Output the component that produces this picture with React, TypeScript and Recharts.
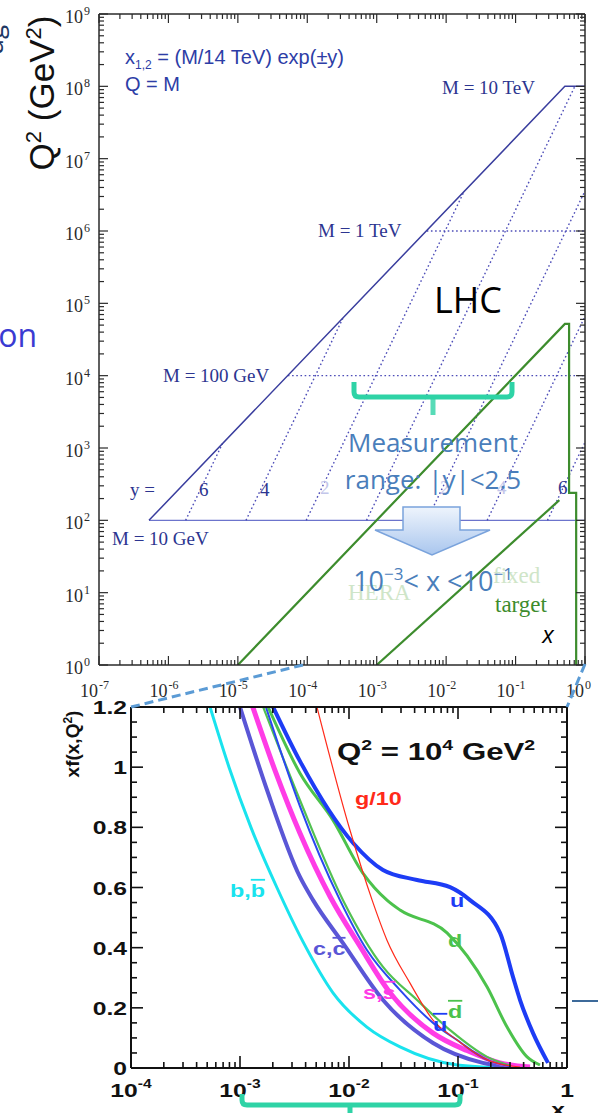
import { LineChart, Line, XAxis, YAxis } from 'recharts'

const SERIF = '"Liberation Serif", "DejaVu Serif", serif'
const SANS = '"Liberation Sans", Arial, sans-serif'
const OFFICE = '"Open Sans", "Noto Sans", sans-serif'

// ---------- upper panel: LHC kinematic plane (x, Q^2) ----------
const edgeX = [1, 0.513, 5.25e-7]
const edgeQ2 = [1e8, 1e8, 1e2]
const m10X = [5.25e-7, 1]
const m10Q2 = [1e2, 1e2]
const m100X = [5.25e-5, 1]
const m100Q2 = [1e4, 1e4]
const m1000X = [5.25e-3, 1]
const m1000Q2 = [1e6, 1e6]
const rapidity = [6, 4, 2, 0, -2, -4, -6]
const rapLowX = [1.77e-6, 1.31e-5, 9.66e-5, 7.14e-4, 5.28e-3, 3.9e-2, 0.288]
const rapLowQ2 = [1e2, 1e2, 1e2, 1e2, 1e2, 1e2, 1e2]
const rapHighX = [6.0e-6, 3.25e-4, 1.78e-2, 0.714, 1, 1, 1]
const rapHighQ2 = [1.15e3, 6.2e4, 3.4e6, 1e8, 3.58e6, 6.6e4, 1.2e3]
const heraX = [1e-5, 0.513, 0.59, 0.59, 0.746, 0.746]
const heraQ2 = [1, 5.2e4, 5.2e4, 240, 240, 1]
const fixedX = [1e-3, 0.427]
const fixedQ2 = [1, 190]

// ---------- lower panel: parton distributions at Q^2 = 10^4 GeV^2 ----------
const uX = [2.01e-3, 3.55e-3, 1.09e-2, 2.05e-2, 4.21e-2, 8.45e-2, 0.129, 0.243, 0.32, 0.371, 0.488, 0.67]
const uV = [1.2, 1.02, 0.748, 0.658, 0.625, 0.601, 0.558, 0.449, 0.302, 0.226, 0.116, 0.017]
const dX = [1.81e-3, 3.55e-3, 7.13e-3, 1.34e-2, 2.23e-2, 2.94e-2, 7.93e-2, 0.185, 0.282, 0.43, 0.565]
const dV = [1.2, 0.98, 0.824, 0.648, 0.558, 0.525, 0.449, 0.269, 0.136, 0.037, 0.01]
const gX = [5.08e-3, 1.02e-2, 1.63e-2, 2.23e-2, 3.63e-2, 5.9e-2, 9.8e-2, 0.185, 0.371]
const gV = [1.2, 0.791, 0.558, 0.425, 0.282, 0.159, 0.093, 0.027, 0.003]
const dbarX = [1.63e-3, 3.55e-3, 8.81e-3, 2.05e-2, 4.21e-2, 8.45e-2, 0.185, 0.3]
const dbarV = [1.2, 0.89, 0.558, 0.336, 0.226, 0.126, 0.037, 0.008]
const ubarX = [1.73e-3, 3.55e-3, 8.26e-3, 1.46e-2, 2.94e-2, 5.9e-2, 9.8e-2, 0.185, 0.3]
const ubarV = [1.2, 0.87, 0.558, 0.392, 0.259, 0.15, 0.093, 0.027, 0.006]
const sX = [1.31e-3, 2.14e-3, 3.55e-3, 6.7e-3, 1.26e-2, 2.38e-2, 5.9e-2, 0.121, 0.243, 0.458]
const sV = [1.2, 0.98, 0.78, 0.57, 0.405, 0.25, 0.116, 0.058, 0.017, 0.003]
const cX = [1.0e-3, 1.77e-3, 3.55e-3, 4.68e-3, 8.81e-3, 2.05e-2, 5.9e-2, 0.169, 0.371]
const cV = [1.2, 0.924, 0.635, 0.558, 0.415, 0.226, 0.083, 0.017, 0.002]
const bX = [5.31e-4, 7.93e-4, 1.26e-3, 2.18e-3, 3.78e-3, 7.13e-3, 1.46e-2, 2.94e-2, 9.8e-2, 0.243]
const bV = [1.2, 1.0, 0.8, 0.6, 0.42, 0.25, 0.136, 0.07, 0.01, 0.001]

const zip = (xs: number[], ys: number[]) => xs.map((x, i) => ({ x, y: ys[i] }))

const logTicks = (lo: number, hi: number) => {
  const t: number[] = []
  for (let e = lo; e < hi; e++) for (let m = 1; m < 10; m++) t.push(m * Math.pow(10, e))
  t.push(Math.pow(10, hi))
  return t
}
const isDecade = (v: number) => Math.abs(Math.log10(v) - Math.round(Math.log10(v))) < 1e-6

const xTicksUp = logTicks(-7, 0)
const yTicksUp = logTicks(0, 9)
const xTicksLow = logTicks(-4, 0)
const yTicksLow = Array.from({ length: 25 }, (_, i) => Math.round(i * 5) / 100)

type Side = 'bottom' | 'top' | 'left' | 'right'

const INK = '#2a2a2a'

const upperTick = (side: Side) => (p: any) => {
  const v = p.payload.value
  const major = isDecade(v)
  const len = major ? 9 : 5
  const { x, y } = p
  const e = Math.round(Math.log10(v))
  const ln = { stroke: INK, strokeWidth: 1.2 }
  if (side === 'bottom')
    return (
      <g>
        <line x1={x} y1={y} x2={x} y2={y - len} {...ln} />
        {major && (
          <g fontFamily={SERIF} fill={INK}>
            <text x={x - 1} y={y + 32} textAnchor="end" fontSize={18}>10</text>
            <text x={x} y={y + 24} fontSize={12}>{e}</text>
          </g>
        )}
      </g>
    )
  if (side === 'top') return <line x1={x} y1={y} x2={x} y2={y + len} {...ln} />
  if (side === 'right') return <line x1={x} y1={y} x2={x - len} y2={y} {...ln} />
  return (
    <g>
      <line x1={x} y1={y} x2={x + len} y2={y} {...ln} />
      {major && (
        <g fontFamily={SERIF} fill={INK}>
          <text x={x - 16} y={y + 9} textAnchor="end" fontSize={18}>10</text>
          <text x={x - 15} y={y + 1} fontSize={12}>{e}</text>
        </g>
      )}
    </g>
  )
}

const lowerTick = (side: Side) => (p: any) => {
  const v = p.payload.value
  const { x, y } = p
  const major = side === 'left' || side === 'right' ? Math.abs(v / 0.2 - Math.round(v / 0.2)) < 1e-6 : isDecade(v)
  const len = major ? 12 : 6
  const ln = { stroke: '#111', strokeWidth: 1.6 }
  if (side === 'bottom') {
    const e = Math.round(Math.log10(v))
    return (
      <g>
        <line x1={x} y1={y} x2={x} y2={y - len} {...ln} />
        {major && (
          <g transform={`translate(${x},${y + 29}) scale(1.3,1)`}>
            <text x={0} y={0} textAnchor="middle" fontFamily={SANS} fontWeight="bold" fontSize={19} fill="#111">
              {e === 0 ? '1' : '10'}
              {e !== 0 && <tspan dy={-9} fontSize={12}>{String(e)}</tspan>}
            </text>
          </g>
        )}
      </g>
    )
  }
  if (side === 'top') return <line x1={x} y1={y} x2={x} y2={y + len} {...ln} />
  if (side === 'right') return <line x1={x} y1={y} x2={x - len} y2={y} {...ln} />
  const lab = v === 0 ? '0' : Math.abs(v - 1) < 1e-6 ? '1' : v.toFixed(1)
  return (
    <g>
      <line x1={x} y1={y} x2={x + len} y2={y} {...ln} />
      {major && (
        <g transform={`translate(${x - 4},${y + 7}) scale(1.3,1)`}>
          <text x={0} y={0} textAnchor="end" fontFamily={SANS} fontWeight="bold" fontSize={19} fill="#111">{lab}</text>
        </g>
      )}
    </g>
  )
}

const NAVY = '#3a3e9e'
const DOT = '#4d4db8'
const GREEN = '#3d8c2d'

const upAxisLine = { stroke: INK, strokeWidth: 1.5 }
const lowAxisLine = { stroke: '#111', strokeWidth: 2 }

function UpperChart() {
  const lineProps = { xAxisId: 'b', yAxisId: 'l', dataKey: 'y', dot: false, activeDot: false, isAnimationActive: false, type: 'linear' as const }
  return (
    <LineChart width={598} height={700} margin={{ top: 4, right: 3, bottom: 5, left: 0 }}>
      <XAxis xAxisId="b" type="number" dataKey="x" scale="log" domain={[1e-7, 1]} ticks={xTicksUp} interval={0}
        tickSize={0} tickMargin={0} height={30} allowDataOverflow axisLine={upAxisLine} tick={upperTick('bottom')} />
      <XAxis xAxisId="t" orientation="top" type="number" dataKey="x" scale="log" domain={[1e-7, 1]} ticks={xTicksUp} interval={0}
        tickSize={0} tickMargin={0} height={10} allowDataOverflow axisLine={upAxisLine} tick={upperTick('top')} />
      <YAxis yAxisId="l" type="number" dataKey="y" scale="log" domain={[1, 1e9]} ticks={yTicksUp} interval={0}
        tickSize={0} tickMargin={0} width={99} allowDataOverflow axisLine={upAxisLine} tick={upperTick('left')} />
      <YAxis yAxisId="r" orientation="right" type="number" dataKey="y" scale="log" domain={[1, 1e9]} ticks={yTicksUp} interval={0}
        tickSize={0} tickMargin={0} width={10} allowDataOverflow axisLine={upAxisLine} tick={upperTick('right')} />

      <Line {...lineProps} data={zip(m10X, m10Q2)} stroke="#6c74cc" strokeWidth={1.4} />
      <Line {...lineProps} data={zip(m100X, m100Q2)} stroke={DOT} strokeWidth={1.4} strokeDasharray="1.6 2.6" />
      <Line {...lineProps} data={zip(m1000X, m1000Q2)} stroke={DOT} strokeWidth={1.4} strokeDasharray="1.6 2.6" />
      {rapidity.map((r, i) => (
        <Line key={r} {...lineProps}
          data={[{ x: rapLowX[i], y: rapLowQ2[i] }, { x: rapHighX[i], y: rapHighQ2[i] }]}
          stroke={DOT} strokeWidth={1.4} strokeDasharray="1.6 2.6" />
      ))}
      <Line {...lineProps} data={zip(edgeX, edgeQ2)} stroke={NAVY} strokeWidth={1.5} />
      <Line {...lineProps} data={zip(heraX, heraQ2)} stroke={GREEN} strokeWidth={2.2} />
      <Line {...lineProps} data={zip(fixedX, fixedQ2)} stroke={GREEN} strokeWidth={2.2} />
    </LineChart>
  )
}

function LowerChart() {
  const lp = { xAxisId: 'b', yAxisId: 'l', dataKey: 'y', dot: false, activeDot: false, isAnimationActive: false, type: 'monotone' as const }
  return (
    <LineChart width={598} height={420} margin={{ top: 7, right: 21, bottom: 5, left: 0 }}>
      <XAxis xAxisId="b" type="number" dataKey="x" scale="log" domain={[1e-4, 1]} ticks={xTicksLow} interval={0}
        tickSize={0} tickMargin={0} height={37} allowDataOverflow axisLine={lowAxisLine} tick={lowerTick('bottom')} />
      <XAxis xAxisId="t" orientation="top" type="number" dataKey="x" scale="log" domain={[1e-4, 1]} ticks={xTicksLow} interval={0}
        tickSize={0} tickMargin={0} height={10} allowDataOverflow axisLine={lowAxisLine} tick={lowerTick('top')} />
      <YAxis yAxisId="l" type="number" dataKey="y" domain={[0, 1.2]} ticks={yTicksLow} interval={0}
        tickSize={0} tickMargin={0} width={131} allowDataOverflow axisLine={lowAxisLine} tick={lowerTick('left')} />
      <YAxis yAxisId="r" orientation="right" type="number" dataKey="y" domain={[0, 1.2]} ticks={yTicksLow} interval={0}
        tickSize={0} tickMargin={0} width={10} allowDataOverflow axisLine={lowAxisLine} tick={lowerTick('right')} />

      <Line {...lp} data={zip(bX, bV)} stroke="#19e3ee" strokeWidth={3} />
      <Line {...lp} data={zip(cX, cV)} stroke="#5a56d6" strokeWidth={4} />
      <Line {...lp} data={zip(sX, sV)} stroke="#ff3ce6" strokeWidth={5} />
      <Line {...lp} data={zip(dbarX, dbarV)} stroke="#52c152" strokeWidth={2.2} />
      <Line {...lp} data={zip(ubarX, ubarV)} stroke="#2a48f0" strokeWidth={2} />
      <Line {...lp} data={zip(dX, dV)} stroke="#4cc24c" strokeWidth={3} />
      <Line {...lp} data={zip(uX, uV)} stroke="#1d3cf5" strokeWidth={4} />
      <Line {...lp} data={zip(gX, gV)} stroke="#ff2a1a" strokeWidth={1.2} />
    </LineChart>
  )
}

function Overlay() {
  const lbl = { fontFamily: SERIF, fontSize: 19, fill: '#2c3590' }
  const pdfLbl = (x: number, y: number, color: string, content: any) => (
    <g transform={`translate(${x},${y}) scale(1.3,1)`}>
      <text x={0} y={0} fontFamily={SANS} fontWeight="bold" fontSize={18} fill={color}>{content}</text>
    </g>
  )
  const teal = '#2ed3a6'
  return (
    <svg width={598} height={1113} style={{ position: 'absolute', left: 0, top: 0, pointerEvents: 'none' }}>
      <defs>
        <linearGradient id="arrowFill" x1="0" y1="0" x2="0" y2="1">
          <stop offset="0%" stopColor="#eef4fc" />
          <stop offset="100%" stopColor="#a9c6ee" />
        </linearGradient>
      </defs>

      {/* cut-off slide text on the left */}
      <text x={3} y={40} transform="rotate(-90 3 40)" textAnchor="middle" fontFamily={OFFICE} fontSize={26} fill="#1f3864">ug</text>
      <text x={37} y={347} textAnchor="end" fontFamily={OFFICE} fontSize={32} fill="#3a3ad2">tion</text>

      {/* upper axis title */}
      <text x={54} y={93} transform="rotate(-90 54 93)" textAnchor="middle" fontFamily={SANS} fontSize={35} fill="#111">
        Q<tspan dy={-13} fontSize={22}>2</tspan><tspan dy={13}> (GeV</tspan><tspan dy={-13} fontSize={22}>2</tspan><tspan dy={13}>)</tspan>
      </text>

      <text x={125} y={64} fontFamily={SANS} fontSize={20} fill="#2d3da6">
        x<tspan dy={5} fontSize={12}>1,2</tspan><tspan dy={-5}> = (M/14 TeV) exp(±y)</tspan>
      </text>
      <text x={125} y={91} fontFamily={SANS} fontSize={20} fill="#2d3da6">Q = M</text>

      <text x={442} y={94} {...lbl}>M = 10 TeV</text>
      <text x={318} y={237} {...lbl}>M = 1 TeV</text>
      <text x={163} y={382} {...lbl}>M = 100 GeV</text>
      <text x={112} y={545} {...lbl}>M = 10 GeV</text>
      <text x={130} y={496} {...lbl}>y =</text>
      <text x={199} y={496} {...lbl}>6</text>
      <text x={260} y={496} {...lbl}>4</text>
      <text x={320} y={494} {...lbl} fill="#c3c6ea">2</text>
      <text x={440} y={494} {...lbl} fill="#c3c6ea">2</text>
      <text x={497} y={494} {...lbl} fill="#c3c6ea">4</text>
      <text x={558} y={494} {...lbl}>6</text>

      <text x={348} y={600} fontFamily={SERIF} fontSize={23} fill="#cfe5c8">HERA</text>
      <text x={493} y={583} fontFamily={SERIF} fontSize={23} fill="#cfe5c8">fixed</text>
      <text x={495} y={612} fontFamily={SERIF} fontSize={23} fill={GREEN}>target</text>

      <text x={468} y={313} textAnchor="middle" fontFamily={OFFICE} fontSize={36} fill="#000">LHC</text>

      {/* measurement bracket */}
      <path d="M354,382 L354,392 Q354,397 359,397 L507,397 Q512,397 512,392 L512,382" fill="none" stroke={teal} strokeWidth={5} />
      <line x1={433} y1={397} x2={433} y2={415} stroke={teal} strokeWidth={5} opacity={0.8} />

      <text x={433} y={452} textAnchor="middle" fontFamily={OFFICE} fontSize={26} fill="#4a7ebb">Measurement</text>
      <text x={433} y={489} textAnchor="middle" fontFamily={OFFICE} fontSize={26} fill="#4a7ebb">range: |y|&lt;2.5</text>

      <polygon points="403,507 460,507 460,530 490,530 432,555 375,530 403,530" fill="url(#arrowFill)" stroke="#7aa3dc" strokeWidth={1.5} />

      <text x={433} y={591} textAnchor="middle" fontFamily={OFFICE} fontSize={27} fill="#4a7ebb">
        10<tspan dy={-11} fontSize={17}>−3</tspan><tspan dy={11}>&lt; x &lt;10</tspan><tspan dy={-11} fontSize={17}>−1</tspan>
      </text>

      <text x={548} y={643} textAnchor="middle" fontFamily={OFFICE} fontStyle="italic" fontSize={24} fill="#000">x</text>

      {/* zoom connectors */}
      <line x1={131} y1={707} x2={307} y2={664} stroke="#5b9bd5" strokeWidth={3} strokeDasharray="9 5" />
      <line x1={585} y1={664} x2={567} y2={707} stroke="#5b9bd5" strokeWidth={3} strokeDasharray="9 5" />

      {/* lower panel titles and labels */}
      <text x={79} y={744} transform="rotate(-90 79 744)" textAnchor="middle" fontFamily={SANS} fontWeight="bold" fontSize={19} fill="#111">
        xf(x,Q<tspan dy={-7} fontSize={12}>2</tspan><tspan dy={7}>)</tspan>
      </text>
      <g transform="translate(337,760) scale(1.3,1)">
        <text x={0} y={0} fontFamily={SANS} fontWeight="bold" fontSize={24} fill="#111">
          Q<tspan dy={-10} fontSize={15}>2</tspan><tspan dy={10}> = 10</tspan><tspan dy={-10} fontSize={15}>4</tspan><tspan dy={10}> GeV</tspan><tspan dy={-10} fontSize={15}>2</tspan>
        </text>
      </g>
      {pdfLbl(355, 805, '#ff2a1a', 'g/10')}
      {pdfLbl(450, 907, '#1d3cf5', 'u')}
      {pdfLbl(448, 947, '#4cc24c', 'd')}
      {pdfLbl(448, 1018, '#4cc24c', <tspan style={{ textDecoration: 'overline' }}>d</tspan>)}
      {pdfLbl(433, 1031, '#1d3cf5', <tspan style={{ textDecoration: 'overline' }}>u</tspan>)}
      {pdfLbl(363, 999, '#ff3ce6', <>s,<tspan style={{ textDecoration: 'overline' }}>s</tspan></>)}
      {pdfLbl(313, 955, '#5a56d6', <>c,<tspan style={{ textDecoration: 'overline' }}>c</tspan></>)}
      {pdfLbl(230, 897, '#19e3ee', <>b,<tspan style={{ textDecoration: 'overline' }}>b</tspan></>)}

      <g transform="translate(558,1116) scale(1.3,1)">
        <text x={0} y={0} textAnchor="middle" fontFamily={SANS} fontWeight="bold" fontSize={19} fill="#111">x</text>
      </g>

      <path d="M242,1094 L242,1100 Q242,1105 247,1105 L455,1105 Q460,1105 460,1100 L460,1094" fill="none" stroke={teal} strokeWidth={5} />
      <line x1={350} y1={1105} x2={350} y2={1113} stroke={teal} strokeWidth={5} />

      <line x1={572} y1={1001} x2={598} y2={1001} stroke="#3d6a9a" strokeWidth={2} />
    </svg>
  )
}

export default function App() {
  return (
    <div style={{ position: 'absolute', left: 0, top: 0, width: 598, height: 1113, background: '#fff', overflow: 'hidden' }}>
      <div style={{ position: 'absolute', left: 0, top: 0 }}>
        <UpperChart />
      </div>
      <div style={{ position: 'absolute', left: 0, top: 690 }}>
        <LowerChart />
      </div>
      <Overlay />
    </div>
  )
}
